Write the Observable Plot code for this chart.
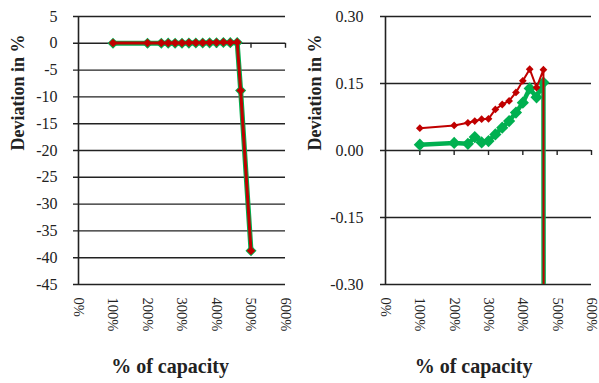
<!DOCTYPE html>
<html>
<head>
<meta charset="utf-8">
<script src="https://cdn.jsdelivr.net/npm/d3@7"></script>
<script src="https://cdn.jsdelivr.net/npm/@observablehq/plot@0.6"></script>
<style>
  html, body { margin: 0; padding: 0; background: #fff; }
  #wrap { display: flex; flex-direction: row; width: 599px; height: 383px; }
  svg { overflow: visible; }
</style>
</head>
<body>
<div id="wrap"></div>
<script>
// capacity in % and deviation in % for two series
const capacity = [100, 200, 240, 260, 280, 300, 320, 340, 360, 380, 400, 420, 440, 460, 470, 500];
const redSeries = [0.050, 0.056, 0.062, 0.066, 0.070, 0.071, 0.092, 0.103, 0.111, 0.130, 0.156, 0.182, 0.141, 0.181, -8.8, -38.7];
const greenSeries = [0.013, 0.017, 0.015, 0.030, 0.018, 0.021, 0.036, 0.051, 0.066, 0.085, 0.107, 0.139, 0.119, 0.152, -8.8, -38.7];
const xTicks = [0, 100, 200, 300, 400, 500, 600];
const leftYTicks = [5, 0, -5, -10, -15, -20, -25, -30, -35, -40, -45];
const rightYTicks = [0.30, 0.15, 0.00, -0.15, -0.30];
const yTitle = "Deviation in %";
const xTitle = "% of capacity";

const red = "#c00000";
const green = "#00b050";
const ink = "#222";
const font = "Liberation Serif, Times New Roman, serif";

const data = capacity.map((c, i) => ({c, red: redSeries[i], green: greenSeries[i]}));

function chart({width, ml, mr, yDomain, yTicks, fmt, pad, ylabDx, xlabDx, redW, greenW, redR, greenR}) {
  const svg = Plot.plot({
    width, height: 383,
    marginLeft: ml, marginRight: mr, marginTop: 16, marginBottom: 99,
    x: {domain: [0, 600], axis: null},
    y: {domain: yDomain, axis: null},
    style: {fontFamily: font, overflow: "visible"},
    marks: [
      Plot.ruleY(yTicks, {y: d => d, stroke: ink, strokeWidth: 1.4, insetLeft: -5}),
      Plot.ruleX([0], {stroke: ink, strokeWidth: 1.6}),
      Plot.ruleX(xTicks.slice(1), {x: d => d, y1: 0, y2: 0, insetBottom: -5, stroke: ink, strokeWidth: 1.4}),
      Plot.line(data, {x: "c", y: "green", stroke: green, strokeWidth: greenW, clip: true}),
      Plot.dot(data, {x: "c", y: "green", symbol: "diamond2", r: greenR, fill: green, stroke: "none", clip: true}),
      Plot.line(data, {x: "c", y: "red", stroke: red, strokeWidth: redW, clip: true}),
      Plot.dot(data, {x: "c", y: "red", symbol: "diamond2", r: redR, fill: red, stroke: "none", clip: true}),
      Plot.text(yTicks, {y: d => d, frameAnchor: "left", dx: -pad, textAnchor: "end", text: fmt, fontSize: 16, fill: ink}),
      Plot.text(xTicks, {x: d => d, frameAnchor: "bottom", dy: 13, rotate: 90, textAnchor: "start", lineAnchor: "middle", text: d => d + "%", fontSize: 14.5, fill: ink}),
      Plot.text([yTitle], {frameAnchor: "left", dx: ylabDx, rotate: -90, text: d => d, fontSize: 18, fontWeight: "bold", fill: ink}),
      Plot.text([xTitle], {frameAnchor: "bottom", dx: xlabDx, dy: 88, text: d => d, fontSize: 20, fontWeight: "bold", fill: ink})
    ]
  });
  return svg;
}

const left = chart({
  width: 299, ml: 78, mr: 14, yDomain: [-45, 5], yTicks: leftYTicks,
  fmt: d => String(d), pad: 21, ylabDx: -60, xlabDx: -12,
  redW: 3, greenW: 5, redR: 3.8, greenR: 5
});
const right = chart({
  width: 300, ml: 86, mr: 8, yDomain: [-0.3, 0.3], yTicks: rightYTicks,
  fmt: d => d.toFixed(2), pad: 22, ylabDx: -70, xlabDx: -15,
  redW: 2, greenW: 4.5, redR: 3.5, greenR: 5.5
});
document.getElementById("wrap").append(left, right);
</script>
</body>
</html>
